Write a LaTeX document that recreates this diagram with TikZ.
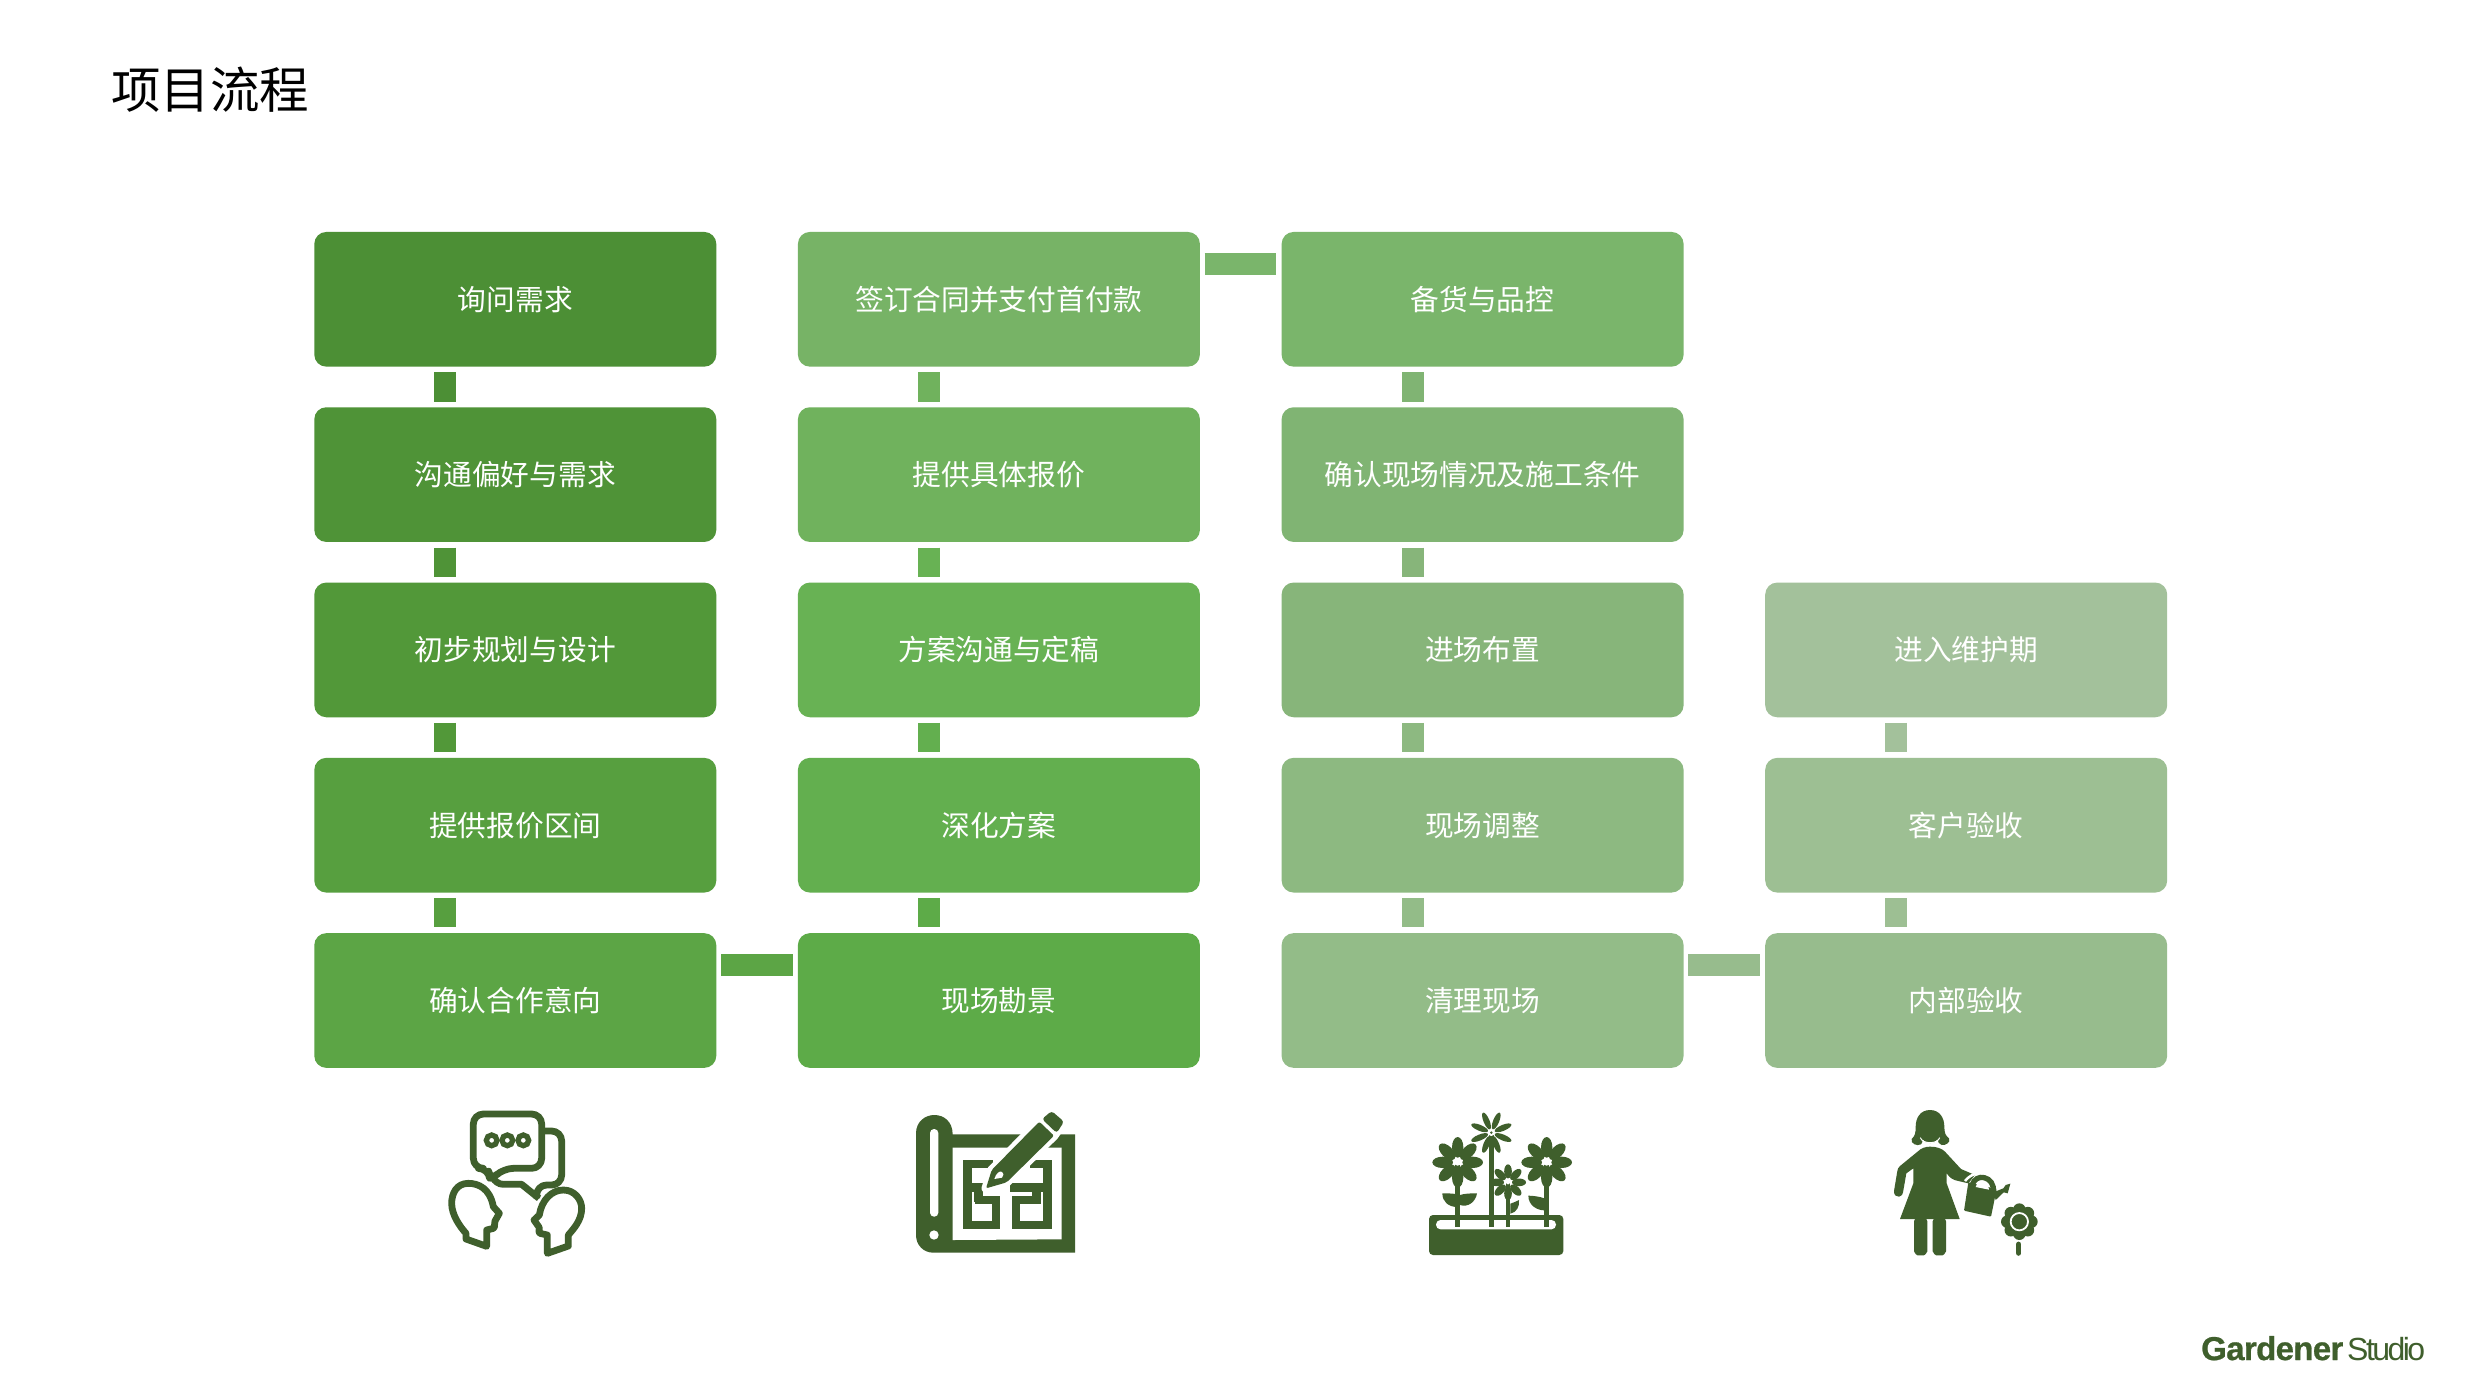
\documentclass[tikz,border=0pt]{standalone}
\usepackage{fontspec}
\setmainfont{Liberation Sans}
\newfontfamily\cjk{Noto Sans CJK SC}
\newfontfamily\logofont{Liberation Sans}
\usetikzlibrary{calc}
\definecolor{ic}{HTML}{3F5F2C}
\definecolor{aa}{HTML}{4C8F35}\definecolor{ab}{HTML}{4F9337}\definecolor{ac}{HTML}{529839}\definecolor{ad}{HTML}{579F3F}\definecolor{ae}{HTML}{5CA545}
\definecolor{ba}{HTML}{77B366}\definecolor{bb}{HTML}{70B25D}\definecolor{bc}{HTML}{68B254}\definecolor{bd}{HTML}{63AF4F}\definecolor{be}{HTML}{5DAB48}
\definecolor{ca}{HTML}{7AB56B}\definecolor{cb}{HTML}{80B473}\definecolor{cc}{HTML}{87B57A}\definecolor{cd}{HTML}{8DB981}\definecolor{ce}{HTML}{93BC88}
\definecolor{dc}{HTML}{A3C19B}\definecolor{dd}{HTML}{9DBF93}\definecolor{de}{HTML}{97BC8D}
\tikzset{
  stage/.style={rectangle,rounded corners=12pt,minimum width=402pt,minimum height=134.7pt,inner sep=0pt,text=white,font=\cjk\fontsize{28.7pt}{32pt}\selectfont},
  vbar/.style={line width=22pt,shorten <=5.5pt,shorten >=5.5pt},
  hbar/.style={line width=22pt,shorten <=4.5pt,shorten >=5pt},
  iconline/.style={draw=ic,line width=6.8pt,line join=round,fill=none},
  wall/.style={draw=ic,line width=8.4pt,line cap=butt,line join=miter},
}
\newcommand{\petalring}[7]{% cx cy dist rx ry offset col
  \foreach \a in {0,45,...,315}{\fill[#7,shift={(#1,#2)},rotate=\a+#6] (#3,0) ellipse (#4 and #5);}
}
\begin{document}
\begin{tikzpicture}[x=1pt,y=-1pt]
\useasboundingbox (0,0) rectangle (2481,1395);
\fill[white] (0,0) rectangle (2481,1395);
\node[anchor=west,inner sep=0pt,text=black,font=\cjk\fontsize{49.5pt}{54pt}\selectfont] (title) at (111,90) {项目流程};
% column 1
\node[stage,fill=aa] (a1) at (515.3,299.3) {询问需求};
\node[stage,fill=ab] (a2) at (515.3,474.6) {沟通偏好与需求};
\node[stage,fill=ac] (a3) at (515.3,649.9) {初步规划与设计};
\node[stage,fill=ad] (a4) at (515.3,825.2) {提供报价区间};
\node[stage,fill=ae] (a5) at (515.3,1000.5) {确认合作意向};
% column 2
\node[stage,fill=ba] (b1) at (998.9,299.3) {签订合同并支付首付款};
\node[stage,fill=bb] (b2) at (998.9,474.6) {提供具体报价};
\node[stage,fill=bc] (b3) at (998.9,649.9) {方案沟通与定稿};
\node[stage,fill=bd] (b4) at (998.9,825.2) {深化方案};
\node[stage,fill=be] (b5) at (998.9,1000.5) {现场勘景};
% column 3
\node[stage,fill=ca] (c1) at (1482.6,299.3) {备货与品控};
\node[stage,fill=cb] (c2) at (1482.6,474.6) {确认现场情况及施工条件};
\node[stage,fill=cc] (c3) at (1482.6,649.9) {进场布置};
\node[stage,fill=cd] (c4) at (1482.6,825.2) {现场调整};
\node[stage,fill=ce] (c5) at (1482.6,1000.5) {清理现场};
% column 4
\node[stage,fill=dc] (d3) at (1966.2,649.9) {进入维护期};
\node[stage,fill=dd] (d4) at (1966.2,825.2) {客户验收};
\node[stage,fill=de] (d5) at (1966.2,1000.5) {内部验收};
% vertical connectors
\foreach \u/\v/\k in {a1/a2/aa,a2/a3/ab,a3/a4/ac,a4/a5/ad,
  b1/b2/bb,b2/b3/bc,b3/b4/bd,b4/b5/be,
  c1/c2/cb,c2/c3/cc,c3/c4/cd,c4/c5/ce,
  d3/d4/dc,d4/d5/dd}{
  \draw[vbar,draw=\k] ([xshift=-70pt]\u.south) -- ([xshift=-70pt]\v.north);
}
% horizontal connectors
\draw[hbar,draw=ae] ([yshift=36pt]a5.east) -- ([yshift=36pt]b5.west);
\draw[hbar,draw=ca] ([yshift=35pt]b1.east) -- ([yshift=35pt]c1.west);
\draw[hbar,draw=de] ([yshift=36pt]c5.east) -- ([yshift=36pt]d5.west);

% icon 1 : two heads in conversation
\begin{scope}[shift={(440,1105)},scale=1/3]
  \draw[iconline,rounded corners=10pt] (100,27) -- (305,27) -- (305,190) -- (190,190) -- (150,228) -- (145,190) -- (100,190) -- cycle;
  \draw[iconline,rounded corners=10pt] (305,78) -- (365,78) -- (365,240) -- (290,240) -- (290,280);
  \draw[iconline] (297,280) -- (245,238) -- (190,238) .. controls (175,238) and (165,228) .. (158,218);
  \foreach \xx in {155,202,250}{\draw[draw=ic,line width=5.3pt] (\xx,106) circle (16);}
  \draw[iconline] (140,424) -- (140,375) -- (160,370) .. controls (168,365) and (160,355) .. (165,348) -- (178,325) -- (160,305)
     .. controls (150,250) and (115,235) .. (85,235) .. controls (50,235) and (35,265) .. (35,295) .. controls (35,330) and (60,365) .. (78,385) -- (78,402) -- cycle;
  \draw[iconline] (322,445) -- (322,390) -- (300,385) .. controls (292,380) and (302,370) .. (296,365) -- (282,345) -- (298,330)
     .. controls (305,285) and (335,255) .. (370,255) .. controls (405,255) and (425,285) .. (425,310) .. controls (425,345) and (402,370) .. (385,390) -- (385,423) -- cycle;
\end{scope}

% icon 2 : blueprint and pen
\begin{scope}[shift={(910,1105)},scale=1/3]
  \fill[ic] (18,85) .. controls (18,50) and (45,30) .. (73,30) .. controls (102,30) and (128,50) .. (128,88) -- (495,88) -- (495,443) -- (70,443) .. controls (40,443) and (18,420) .. (18,390) -- cycle;
  \fill[white] (128,128) -- (455,128) -- (455,403) -- (128,405) -- cycle;
  \fill[white,rounded corners=4pt] (60,72) rectangle (85,335);
  \fill[white] (72,390) circle (14);
  \draw[wall] (250,177) -- (173,177) -- (173,360) -- (258,360) -- (258,285) -- (195,285);
  \draw[wall] (173,248) -- (235,248);
  \draw[wall] (205,248) -- (205,290);
  \draw[wall] (360,177) -- (412,177) -- (412,360) -- (305,360);
  \draw[wall] (300,248) -- (412,248);
  \draw[wall] (380,248) -- (380,285) -- (318,285) -- (318,360);
  \fill[white,draw=white,line width=9pt,line join=round] (388,50) -- (425,18) -- (462,50) -- (432,92) -- (290,232) -- (228,250) -- (245,195) -- cycle;
  \fill[ic,rounded corners=2pt] (388,50) -- (432,92) -- (290,232) -- (228,250) -- (245,195) -- cycle;
  \fill[ic,rounded corners=3pt] (396,42) -- (425,18) -- (462,50) -- (440,84) -- cycle;
  \fill[white] (253,222) .. controls (258,205) and (268,198) .. (274,200) .. controls (282,205) and (282,212) .. (276,218) -- cycle;
\end{scope}

% icon 3 : planter with flowers
\begin{scope}[shift={(1425,1105)},scale=1/3]
  \fill[ic,rounded corners=4pt] (12,330) rectangle (415,450);
  \fill[white,rounded corners=4.5pt] (33,345) rectangle (393,373);
  \fill[ic] (91,172) rectangle (105,367);
  \fill[ic] (192,83) rectangle (206,367);
  \fill[ic] (242,232) rectangle (256,367);
  \fill[ic] (358,172) rectangle (372,367);
  \fill[ic] (206,222) rectangle (232,242);
  \petalring{98}{172}{45}{31}{17}{0}{ic}
  \petalring{365}{172}{45}{31}{17}{0}{ic}
  \petalring{249}{232}{33}{21}{11.5}{0}{ic}
  \petalring{199}{83}{38}{27}{9}{22.5}{ic}
  \fill[white] (98,172) circle (10);
  \fill[white] (365,172) circle (10);
  \fill[white] (249,232) circle (6);
  \fill[white] (199,83) circle (10);
  \fill[ic] (199,83) circle (4);
  \fill[ic] (52,265) .. controls (65,265) and (85,265) .. (95,268) -- (95,306) .. controls (70,305) and (52,290) .. (52,265) -- cycle;
  \fill[ic] (156,265) .. controls (140,265) and (120,265) .. (105,270) -- (105,300) .. controls (130,308) and (152,290) .. (156,265) -- cycle;
  \fill[ic] (310,272) .. controls (325,272) and (345,275) .. (358,280) -- (358,316) .. controls (335,316) and (310,300) .. (310,272) -- cycle;
  \fill[ic] (282,285) .. controls (275,290) and (265,292) .. (256,296) -- (256,326) .. controls (275,322) and (284,305) .. (282,285) -- cycle;
\end{scope}

% icon 4 : gardener watering a flower
\begin{scope}[shift={(1885,1105)},scale=1/3]
  \fill[ic] (135,15) .. controls (105,15) and (92,40) .. (92,65) .. controls (92,85) and (90,92) .. (80,102) .. controls (76,115) and (95,125) .. (108,118) .. controls (112,114) and (113,108) .. (113,103)
     .. controls (120,118) and (150,118) .. (158,103) .. controls (158,110) and (162,118) .. (170,120) .. controls (182,122) and (198,112) .. (192,100) .. controls (182,92) and (178,85) .. (178,65) .. controls (178,40) and (165,15) .. (135,15) -- cycle;
  \draw[white,line width=1pt] (106,98) .. controls (112,118) and (158,118) .. (164,98);
  \fill[ic] (135,125) .. controls (120,125) and (108,130) .. (100,138) -- (45,183) .. controls (40,187) and (38,192) .. (37,198) -- (27,258) .. controls (26,270) and (34,276) .. (42,275) .. controls (50,274) and (53,268) .. (54,262) -- (64,205) -- (85,190) -- (85,235) -- (45,342) -- (224,342) -- (185,235) -- (185,205) .. controls (195,220) and (205,225) .. (220,228) -- (250,235) -- (270,210) -- (228,192) -- (180,140) .. controls (170,130) and (155,125) .. (135,125) -- cycle;
  \fill[ic,rounded corners=3pt] (87,340) -- (127,340) -- (127,430) .. controls (127,445) and (117,451) .. (107,451) .. controls (97,451) and (87,445) .. (87,430) -- cycle;
  \fill[ic,rounded corners=3pt] (143,340) -- (183,340) -- (183,430) .. controls (183,445) and (173,451) .. (163,451) .. controls (153,451) and (143,445) .. (143,430) -- cycle;
  \draw[white,line width=2.5pt] (240,228) .. controls (250,215) and (265,205) .. (285,205);
  \fill[ic,rounded corners=1pt] (250,232) -- (335,252) -- (318,335) -- (237,317) -- cycle;
  \draw[ic,line width=5.3pt] (262,238) .. controls (268,222) and (282,214) .. (298,218) .. controls (315,222) and (328,238) .. (325,262);
  \fill[white] (272,246) .. controls (275,232) and (290,222) .. (302,232) .. controls (308,238) and (312,245) .. (312,254) -- cycle;
  \fill[ic] (325,262) -- (355,250) -- (362,240) -- (376,236) -- (368,265) -- (356,262) -- (332,285) -- cycle;
  \fill[ic] (403,350) circle (38);
  \foreach \a in {0,45,...,315}{\fill[ic] (403,350) ++(\a:36) circle (19);}
  \draw[white,line width=1.8pt] (403,350) circle (26);
  \draw[ic,line width=5.5pt,line cap=round] (401,418) -- (401,444);
\end{scope}

% logo
\node[anchor=base west,inner sep=0pt,text=ic] (logo) at (2201,1360) {\logofont\fontsize{33pt}{36pt}\selectfont\bfseries\addfontfeature{LetterSpace=-2,FakeBold=0.8}Gardener};
\node[anchor=base west,inner sep=0pt,text=ic] (logo2) at (2347,1360) {\logofont\fontsize{32pt}{36pt}\selectfont\addfontfeature{LetterSpace=-8}Studio};
\end{tikzpicture}
\end{document}
